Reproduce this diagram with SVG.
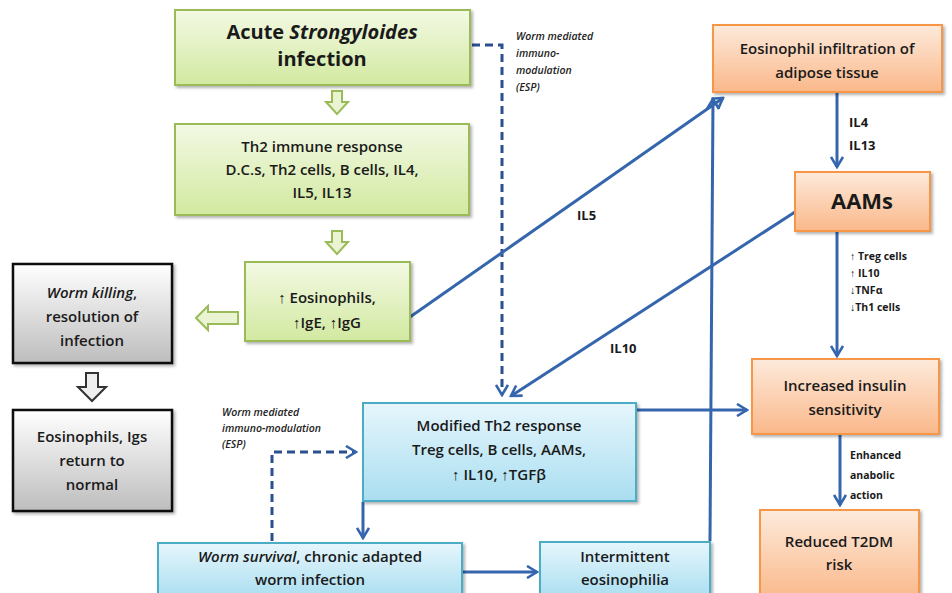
<svg xmlns="http://www.w3.org/2000/svg" width="952" height="593" viewBox="0 0 952 593">
<defs>
<linearGradient id="gGreen" x1="0" y1="0" x2="0" y2="1"><stop offset="0" stop-color="#f3f9e4"/><stop offset="1" stop-color="#d2e9a0"/></linearGradient>
<linearGradient id="gBlue" x1="0" y1="0" x2="0" y2="1"><stop offset="0" stop-color="#e6f6fc"/><stop offset="1" stop-color="#a9def0"/></linearGradient>
<linearGradient id="gOrange" x1="0" y1="0" x2="0" y2="1"><stop offset="0" stop-color="#fdeadb"/><stop offset="1" stop-color="#fab88a"/></linearGradient>
<linearGradient id="gGray" x1="0" y1="0" x2="0" y2="1"><stop offset="0" stop-color="#ffffff"/><stop offset="1" stop-color="#bdbdbd"/></linearGradient>
<filter id="sh" x="-10%" y="-10%" width="125%" height="130%"><feDropShadow dx="2" dy="2" stdDeviation="1.5" flood-color="#000" flood-opacity="0.3"/></filter>
<marker id="arr" viewBox="0 0 14 14" refX="12" refY="7" markerWidth="14" markerHeight="14" markerUnits="userSpaceOnUse" orient="auto"><path d="M2,1 L12,7 L2,13" fill="none" stroke="#3566ad" stroke-width="2.6"/></marker>
</defs>
<style>
.green{fill:url(#gGreen);stroke:#9bbb59;stroke-width:2;filter:url(#sh)}
.blue{fill:url(#gBlue);stroke:#4bacc6;stroke-width:2;filter:url(#sh)}
.orange{fill:url(#gOrange);stroke:#f79646;stroke-width:2;filter:url(#sh)}
.gray{fill:url(#gGray);stroke:#111;stroke-width:2.5;filter:url(#sh)}
text{font-family:"Open Sans","Liberation Sans",sans-serif;font-weight:bold;fill:#1a1a1a;text-anchor:middle}
.t15{font-size:15px;font-weight:600}
.big{font-size:20px}
.sm{font-size:13px;text-anchor:start}
.tiny{font-size:10.5px;text-anchor:start;font-style:italic;font-weight:600;fill:#222}
.xs{font-size:10.5px;text-anchor:start}
.line{fill:none;stroke:#3566ad;stroke-width:3}
.dash{fill:none;stroke:#2b4f8f;stroke-width:3;stroke-dasharray:8 5}
.bgreen{fill:#eaf4d2;stroke:#9bbb59;stroke-width:2}
.bgray{fill:#eeeeee;stroke:#333;stroke-width:2}
</style>
<g id="connectors">
<polygon class="bgreen" points="332,91 342,91 342,102 348,102 337,114 326,102 332,102"/>
<polygon class="bgreen" points="332,231 342,231 342,242 348,242 337,254 326,242 332,242"/>
<polygon class="bgreen" points="196,318 208,306 208,312 238,312 238,324 208,324 208,330"/>
<polygon class="bgray" points="86,373 98,373 98,387 106,387 92,401 78,387 86,387"/>
<polyline class="dash" points="472,45 502,45 502,395" marker-end="url(#arr)"/>
<polyline class="dash" points="272,541 272,452 356,452" marker-end="url(#arr)"/>
<line class="line" x1="410" y1="317" x2="723" y2="98" marker-end="url(#arr)"/>
<line class="line" x1="795" y1="212" x2="511" y2="396" marker-end="url(#arr)"/>
<line class="line" x1="710" y1="541" x2="713" y2="99" marker-end="url(#arr)"/>
<line class="line" x1="837" y1="93" x2="837" y2="167" marker-end="url(#arr)"/>
<line class="line" x1="837" y1="231" x2="837" y2="356" marker-end="url(#arr)"/>
<line class="line" x1="840" y1="435" x2="840" y2="505" marker-end="url(#arr)"/>
<line class="line" x1="635" y1="410" x2="747" y2="410" marker-end="url(#arr)"/>
<line class="line" x1="363" y1="502" x2="363" y2="538" marker-end="url(#arr)"/>
<line class="line" x1="463" y1="572" x2="537" y2="572" marker-end="url(#arr)"/>
<text class="sm" x="577" y="220">IL5</text>
<text class="sm" x="610" y="353">IL10</text>
<text class="sm" x="849" y="127">IL4</text>
<text class="sm" x="849" y="150">IL13</text>
<text class="xs" x="850" y="260">↑ Treg cells</text>
<text class="xs" x="850" y="277">↑ IL10</text>
<text class="xs" x="850" y="294">↓TNFα</text>
<text class="xs" x="850" y="311">↓Th1 cells</text>
<text class="xs" x="850" y="459">Enhanced</text>
<text class="xs" x="850" y="479">anabolic</text>
<text class="xs" x="850" y="499">action</text>
<text class="tiny" x="516" y="40">Worm mediated</text>
<text class="tiny" x="516" y="57">immuno-</text>
<text class="tiny" x="516" y="74">modulation</text>
<text class="tiny" x="516" y="91">(ESP)</text>
<text class="tiny" x="222" y="416">Worm mediated</text>
<text class="tiny" x="222" y="432">immuno-modulation</text>
<text class="tiny" x="222" y="448">(ESP)</text>
</g>
<g id="acute">
<rect class="green" x="175" y="10" width="295" height="75"/>
<text class="big" x="322" y="39">Acute <tspan font-style="italic">Strongyloides</tspan></text>
<text class="big" x="322" y="66">infection</text>
</g>
<g id="th2">
<rect class="green" x="175" y="124" width="294" height="91"/>
<text class="t15" x="322" y="152">Th2 immune  response</text>
<text class="t15" x="322" y="175">D.C.s, Th2 cells, B cells, IL4,</text>
<text class="t15" x="322" y="198">IL5, IL13</text>
</g>
<g id="eos">
<rect class="green" x="245" y="262" width="165" height="79"/>
<text class="t15" x="327" y="303">↑ Eosinophils,</text>
<text class="t15" x="327" y="328">↑IgE, ↑IgG</text>
</g>
<g id="worm-killing">
<rect class="gray" x="13" y="264" width="159" height="99"/>
<text class="t15" x="92" y="298"><tspan font-style="italic">Worm killing</tspan>,</text>
<text class="t15" x="92" y="322">resolution of</text>
<text class="t15" x="92" y="346">infection</text>
</g>
<g id="eos-normal">
<rect class="gray" x="13" y="410" width="159" height="101"/>
<text class="t15" x="92" y="442">Eosinophils, Igs</text>
<text class="t15" x="92" y="466">return to</text>
<text class="t15" x="92" y="490">normal</text>
</g>
<g id="modified">
<rect class="blue" x="363" y="403" width="273" height="98"/>
<text class="t15" x="499" y="431">Modified Th2 response</text>
<text class="t15" x="499" y="455">Treg  cells, B cells, AAMs,</text>
<text class="t15" x="499" y="480" font-size="16">↑ IL10, ↑TGFβ</text>
</g>
<g id="worm-survival">
<rect class="blue" x="158" y="543" width="304" height="56"/>
<text class="t15" x="310" y="562"><tspan font-style="italic">Worm survival</tspan>, chronic adapted</text>
<text class="t15" x="310" y="585">worm infection</text>
</g>
<g id="intermittent">
<rect class="blue" x="540" y="542" width="170" height="57"/>
<text class="t15" x="625" y="562">Intermittent</text>
<text class="t15" x="625" y="585">eosinophilia</text>
</g>
<g id="infiltration">
<rect class="orange" x="713" y="25" width="229" height="67"/>
<text class="t15" x="827" y="54">Eosinophil infiltration of</text>
<text class="t15" x="827" y="78">adipose tissue</text>
</g>
<g id="aams">
<rect class="orange" x="795" y="172" width="135" height="59"/>
<text x="862" y="209" font-size="22px">AAMs</text>
</g>
<g id="insulin">
<rect class="orange" x="752" y="359" width="187" height="75"/>
<text class="t15" x="845" y="391">Increased  insulin</text>
<text class="t15" x="845" y="415">sensitivity</text>
</g>
<g id="t2dm">
<rect class="orange" x="760" y="510" width="159" height="90"/>
<text class="t15" x="839" y="547">Reduced T2DM</text>
<text class="t15" x="839" y="570">risk</text>
</g>
</svg>
